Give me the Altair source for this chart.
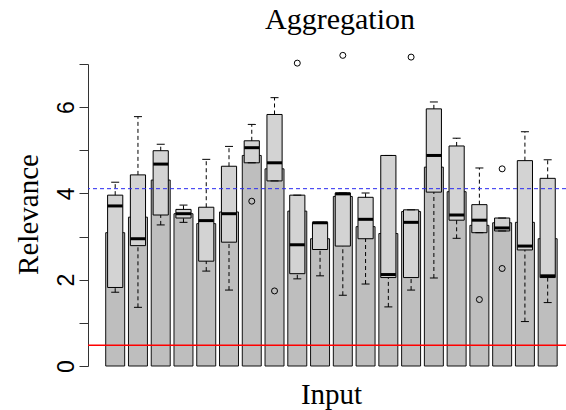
import altair as alt
import pandas as pd

# ---- data ----
inputs = list(range(1, 21))
bar_vals = [3.09, 3.45, 4.31, 3.53, 3.30, 3.57, 4.88, 4.57, 3.59, 2.95,
            3.93, 3.23, 3.07, 3.58, 4.61, 4.04, 3.26, 3.32, 3.33, 2.95]
q1 = [1.82, 2.79, 3.50, 3.43, 2.43, 2.87, 4.71, 4.29, 2.14, 2.70,
      2.78, 2.95, 2.05, 2.05, 4.03, 3.38, 3.09, 3.13, 2.69, 2.05]
med = [3.71, 2.95, 4.68, 3.53, 3.37, 3.53, 5.06, 4.71, 2.81, 3.32,
       3.99, 3.40, 2.12, 3.33, 4.88, 3.50, 3.38, 3.20, 2.78, 2.09]
q3 = [3.96, 4.43, 4.99, 3.63, 3.68, 4.63, 5.22, 5.83, 3.96, 3.33,
      4.01, 3.91, 4.88, 3.62, 5.96, 5.10, 3.74, 3.43, 4.76, 4.35]
whisker_lo = [1.71, 1.36, 3.27, 3.33, 2.20, 1.76, 4.71, 4.29, 2.02, 2.09,
              1.64, 1.90, 1.37, 1.76, 2.04, 2.96, 3.09, 3.13, 1.03, 1.47]
whisker_hi = [4.26, 5.78, 5.14, 3.73, 4.79, 5.09, 5.60, 6.22, 3.96, 3.33,
              4.01, 4.01, 4.88, 3.62, 6.12, 5.28, 4.59, 3.43, 5.43, 4.78]
outlier_input = [7, 8, 9, 11, 14, 17, 18, 18]
outlier_value = [3.82, 1.74, 7.02, 7.20, 7.16, 1.54, 4.57, 2.26]
red_line = [0.48]
blue_line = [4.11]
y_ticks = [0, 1, 2, 3, 4, 5, 6, 7]

df = pd.DataFrame({"input": inputs, "bar": bar_vals, "q1": q1, "med": med,
                   "q3": q3, "lo": whisker_lo, "hi": whisker_hi})
out_df = pd.DataFrame({"input": outlier_input, "value": outlier_value})
red_df = pd.DataFrame({"level": red_line})
blue_df = pd.DataFrame({"level": blue_line})

W, H = 478, 302
SERIF = "Liberation Serif"

x_scale = alt.Scale(paddingInner=0.1667, paddingOuter=0.5833, align=0.667)
x_axis = alt.Axis(title="Input", labels=False, ticks=False, domain=False, grid=False,
                  titleFont=SERIF, titleFontSize=29, titleFontWeight="normal",
                  titleColor="black", titleX=243, titleY=37, titleAlign="center",
                  titleBaseline="alphabetic")
y_scale = alt.Scale(domain=[0, 7], nice=False, zero=True)
y_axis = alt.Axis(title="Relevance", values=y_ticks,
                  labelExpr="datum.value % 2 === 0 ? datum.label : ''",
                  labelAngle=270, labelAlign="center", labelBaseline="alphabetic",
                  labelPadding=6, labelFont="Liberation Sans", labelFontSize=23,
                  labelColor="black", tickSize=9, tickColor="#333", tickWidth=1,
                  domainColor="#333", domainWidth=1, grid=False,
                  titleFont=SERIF, titleFontSize=29, titleFontWeight="normal",
                  titleColor="black", titleAngle=270, titleX=-51, titleY=150,
                  titleAlign="center", titleBaseline="alphabetic")


def X():
    return alt.X("input:O", scale=x_scale, axis=x_axis)


def Y(field):
    return alt.Y(field, type="quantitative", scale=y_scale, axis=y_axis)


base = alt.Chart(df)

bars = base.mark_bar(fill="#bebebe", stroke="#111", strokeWidth=1, opacity=1).encode(
    x=X(), y=Y("bar"))
boxes = base.mark_bar(fill="#d3d3d3", stroke="#000", strokeWidth=1, opacity=1,
                      width=alt.RelativeBandSize(0.8)).encode(
    x=X(), y=Y("q1"), y2="q3")
wh_up = base.mark_rule(color="black", strokeWidth=1, strokeDash=[4, 3], opacity=1).encode(
    x=X(), y=Y("q3"), y2="hi")
wh_dn = base.mark_rule(color="black", strokeWidth=1, strokeDash=[4, 3], opacity=1).encode(
    x=X(), y=Y("lo"), y2="q1")
cap_up = base.mark_tick(color="black", size=8, thickness=1, opacity=1).encode(x=X(), y=Y("hi"))
cap_dn = base.mark_tick(color="black", size=8, thickness=1, opacity=1).encode(x=X(), y=Y("lo"))
medians = base.mark_tick(color="black", size=15, thickness=3, opacity=1).encode(x=X(), y=Y("med"))
outs = alt.Chart(out_df).mark_point(shape="circle", filled=False, color="black",
                                    size=36, strokeWidth=1, opacity=1).encode(
    x=X(), y=Y("value"))
red = alt.Chart(red_df).mark_rule(stroke="#ff0000", strokeWidth=1.5, opacity=1).encode(
    y=Y("level"))
blue = alt.Chart(blue_df).mark_rule(stroke="#2a2af0", strokeWidth=1, opacity=1,
                                    strokeDash=[4, 3]).encode(y=Y("level"))

chart = alt.layer(bars, boxes, wh_up, wh_dn, cap_up, cap_dn, medians, outs, red, blue).properties(
    width=W, height=H,
    autosize="none",
    padding={"left": 88, "top": 64, "right": 0, "bottom": 44},
    background="white",
    title=alt.TitleParams("Aggregation", font=SERIF, fontSize=30, fontWeight="normal",
                          color="black", anchor="middle", dx=13, offset=15),
).configure_view(stroke=None)

chart.save("out.html", embed_options={"renderer": "svg", "actions": False})
